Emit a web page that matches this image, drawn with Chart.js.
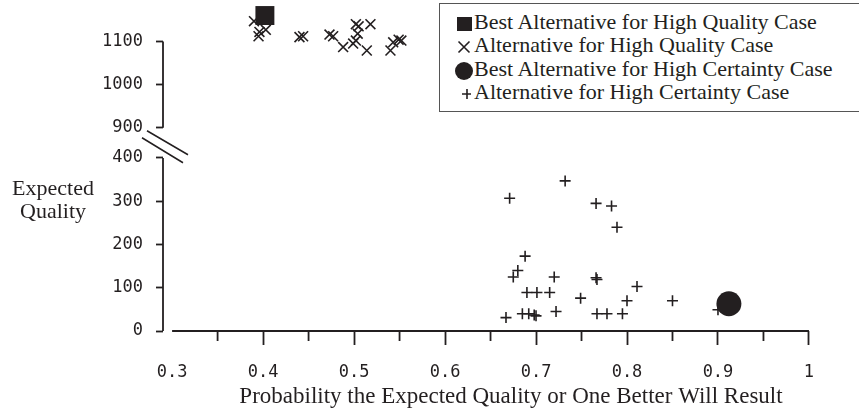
<!DOCTYPE html>
<html lang="en">
<head>
<meta charset="UTF-8">
<title>Expected Quality vs Probability</title>
<script src="https://cdn.jsdelivr.net/npm/chart.js"></script>
<style>
    body {
        margin: 0;
        background: #ffffff;
        overflow: hidden;
    }
    #wrap {
        position: relative;
        width: 859px;
        height: 412px;
        overflow: hidden;
    }
    #legend {
        position: absolute;
        left: 439px;
        top: 3px;
        width: 440px;
        height: 109px;
        box-sizing: border-box;
        border: 1px solid #555;
        background: #fff;
        padding-top: 6px;
        font-family: 'Liberation Serif', serif;
        font-size: 22px;
        color: #231f20;
    }
    .row {
        height: 23.3px;
        line-height: 23.3px;
        white-space: nowrap;
    }
    .mk {
        display: inline-block;
        width: 20px;
        margin-left: 14px;
        text-align: center;
        vertical-align: middle;
        line-height: 0;
    }
    .sq { display: inline-block; width: 15px; height: 14px; background: #231f20; }
    .ci { display: inline-block; width: 18px; height: 18px; border-radius: 50%; background: #231f20; }
</style>
</head>
<body>
<div id="wrap">
    <canvas id="chart" width="859" height="412"></canvas>
    <div id="legend">
        <div class="row"><span class="mk"><span class="sq"></span></span>Best Alternative for High Quality Case</div>
        <div class="row"><span class="mk"><svg width="14" height="14"><path d="M1.5 1.5L12.5 12.5M12.5 1.5L1.5 12.5" stroke="#231f20" stroke-width="1.6"/></svg></span>Alternative for High Quality Case</div>
        <div class="row"><span class="mk"><span class="ci"></span></span>Best Alternative for High Certainty Case</div>
        <div class="row"><span class="mk"><svg width="14" height="14"><path d="M7 2V12M2 7H12" stroke="#231f20" stroke-width="1.6" transform="translate(3 0)"/></svg></span>Alternative for High Certainty Case</div>
    </div>
</div>

<script>
    // data
    const hqBestX = [0.402];
    const hqBestY = [1160];
    const hqAltX = [0.390, 0.396, 0.395, 0.403, 0.440, 0.444, 0.473, 0.477, 0.488, 0.499,
                    0.502, 0.505, 0.504, 0.502, 0.518, 0.514, 0.540, 0.543, 0.549, 0.552];
    const hqAltY = [1147, 1122, 1112, 1127, 1110, 1112, 1116, 1112, 1087, 1095,
                    1140, 1135, 1118, 1102, 1140, 1079, 1079, 1098, 1104, 1102];
    const hcBestX = [0.912];
    const hcBestY = [63];
    const hcAltX = [0.671, 0.732, 0.766, 0.783, 0.789, 0.688, 0.680, 0.675, 0.720, 0.766,
                    0.767, 0.690, 0.701, 0.715, 0.749, 0.800, 0.811, 0.850, 0.667, 0.685,
                    0.692, 0.698, 0.700, 0.722, 0.767, 0.778, 0.795, 0.900];
    const hcAltY = [307, 347, 295, 289, 240, 173, 140, 125, 125, 123,
                    119, 89, 89, 89, 76, 70, 103, 70, 31, 40,
                    40, 37, 35, 45, 40, 40, 40, 49];

    const xTicks = [0.3, 0.35, 0.4, 0.45, 0.5, 0.55, 0.6, 0.65, 0.7, 0.75, 0.8, 0.85, 0.9, 0.95, 1.0];
    const yLowTicks = [0, 100, 200, 300, 400];
    const yHighTicks = [900, 1000, 1100];
    const xTitle = 'Probability the Expected Quality or One Better Will Result';
    const yTitle = ['Expected', 'Quality'];

    const ink = '#231f20';
    const monoFont = { family: 'DejaVu Sans Mono', size: 17 };

    function pts(xs, ys) {
        return xs.map((x, i) => ({ x: x, y: ys[i] }));
    }

    function isMajor(v) {
        return Math.abs(v * 10 - Math.round(v * 10)) < 1e-6;
    }

    const axisDecor = {
        id: 'axisDecor',
        afterDraw(chart) {
            const ctx = chart.ctx;
            const xs = chart.scales.x;
            const lo = chart.scales.y;
            const hi = chart.scales.y2;
            const ax = chart.chartArea.left;
            const by = chart.chartArea.bottom;
            ctx.save();
            ctx.strokeStyle = ink;
            ctx.lineWidth = 1.8;
            ctx.beginPath();
            ctx.moveTo(ax, lo.getPixelForValue(400));
            ctx.lineTo(ax, lo.getPixelForValue(0));
            ctx.moveTo(ax, hi.getPixelForValue(1100));
            ctx.lineTo(ax, hi.getPixelForValue(900));
            ctx.moveTo(xs.getPixelForValue(0.3), by);
            ctx.lineTo(xs.getPixelForValue(1.0), by);
            // shorter minor ticks on x
            xTicks.filter(v => !isMajor(v)).forEach(v => {
                const px = xs.getPixelForValue(v);
                ctx.moveTo(px, by);
                ctx.lineTo(px, by + 10);
            });
            ctx.stroke();

            // break marks
            const y9 = hi.getPixelForValue(900);
            ctx.lineWidth = 1.5;
            ctx.beginPath();
            ctx.moveTo(ax - 16, y9 + 3);
            ctx.lineTo(ax + 25, y9 + 27);
            ctx.moveTo(ax - 21, y9 + 10);
            ctx.lineTo(ax + 20, y9 + 35);
            ctx.stroke();

            // horizontal y title
            ctx.fillStyle = ink;
            ctx.font = '22px "Liberation Serif"';
            ctx.textAlign = 'center';
            ctx.textBaseline = 'alphabetic';
            ctx.fillText(yTitle[0], 53, 195);
            ctx.fillText(yTitle[1], 53, 218);
            ctx.restore();
        }
    };

    const tickGrid = len => ({
        display: true,
        drawOnChartArea: false,
        drawTicks: true,
        tickLength: len,
        tickWidth: 1.8,
        tickColor: ink
    });

    const fitY = s => {
        s.width = 163;
        s.paddingTop = 0;
        s.paddingBottom = 0;
    };

    new Chart(document.getElementById('chart'), {
        type: 'scatter',
        data: {
            datasets: [
                {
                    label: 'Best Alternative for High Quality Case',
                    data: pts(hqBestX, hqBestY),
                    yAxisID: 'y2',
                    pointStyle: 'rect',
                    pointRadius: 13.4,
                    backgroundColor: ink,
                    borderColor: ink,
                    borderWidth: 0
                },
                {
                    label: 'Best Alternative for High Certainty Case',
                    data: pts(hcBestX, hcBestY),
                    yAxisID: 'y',
                    pointStyle: 'circle',
                    pointRadius: 12.5,
                    backgroundColor: ink,
                    borderColor: ink,
                    borderWidth: 0
                },
                {
                    label: 'Alternative for High Quality Case',
                    data: pts(hqAltX, hqAltY),
                    yAxisID: 'y2',
                    pointStyle: 'crossRot',
                    pointRadius: 7,
                    borderColor: ink,
                    borderWidth: 1.6
                },
                {
                    label: 'Alternative for High Certainty Case',
                    data: pts(hcAltX, hcAltY),
                    yAxisID: 'y',
                    pointStyle: 'cross',
                    pointRadius: 5.5,
                    borderColor: ink,
                    borderWidth: 1.6
                }
            ]
        },
        options: {
            responsive: false,
            animation: false,
            clip: false,
            layout: { padding: 0, autoPadding: false },
            plugins: {
                legend: { display: false },
                tooltip: { enabled: false }
            },
            scales: {
                x: {
                    type: 'linear',
                    min: 0.29,
                    max: 1.055,
                    afterFit: s => {
                        s.height = 81;
                        s.paddingLeft = 0;
                        s.paddingRight = 0;
                    },
                    afterBuildTicks: s => { s.ticks = xTicks.map(v => ({ value: v })); },
                    border: { display: false },
                    grid: Object.assign(tickGrid(14), {
                        tickColor: c => {
                            if (!c.tick) return ink;
                            const v = c.tick.value;
                            return (Math.abs(v - 0.3) < 1e-9 || !isMajor(v)) ? 'rgba(0,0,0,0)' : ink;
                        }
                    }),
                    ticks: {
                        autoSkip: false,
                        maxRotation: 0,
                        padding: 17,
                        color: ink,
                        font: monoFont,
                        callback: v => isMajor(v) ? String(Math.round(v * 10) / 10) : ''
                    },
                    title: {
                        display: true,
                        text: xTitle,
                        color: ink,
                        font: { family: 'Liberation Serif', size: 23 },
                        padding: { top: 0, bottom: 1 }
                    }
                },
                y: {
                    type: 'linear',
                    position: 'left',
                    stack: 'yq',
                    stackWeight: 186,
                    min: 0,
                    max: 430,
                    afterFit: fitY,
                    afterBuildTicks: s => { s.ticks = yLowTicks.map(v => ({ value: v })); },
                    border: { display: false },
                    grid: tickGrid(7),
                    ticks: { padding: 13, color: ink, font: monoFont, callback: v => String(v) }
                },
                y2: {
                    type: 'linear',
                    position: 'left',
                    stack: 'yq',
                    stackWeight: 145,
                    min: 860,
                    max: 1196,
                    afterFit: fitY,
                    afterBuildTicks: s => { s.ticks = yHighTicks.map(v => ({ value: v })); },
                    border: { display: false },
                    grid: tickGrid(7),
                    ticks: { padding: 13, color: ink, font: monoFont, callback: v => String(v) }
                }
            }
        },
        plugins: [axisDecor]
    });
</script>
</body>
</html>
